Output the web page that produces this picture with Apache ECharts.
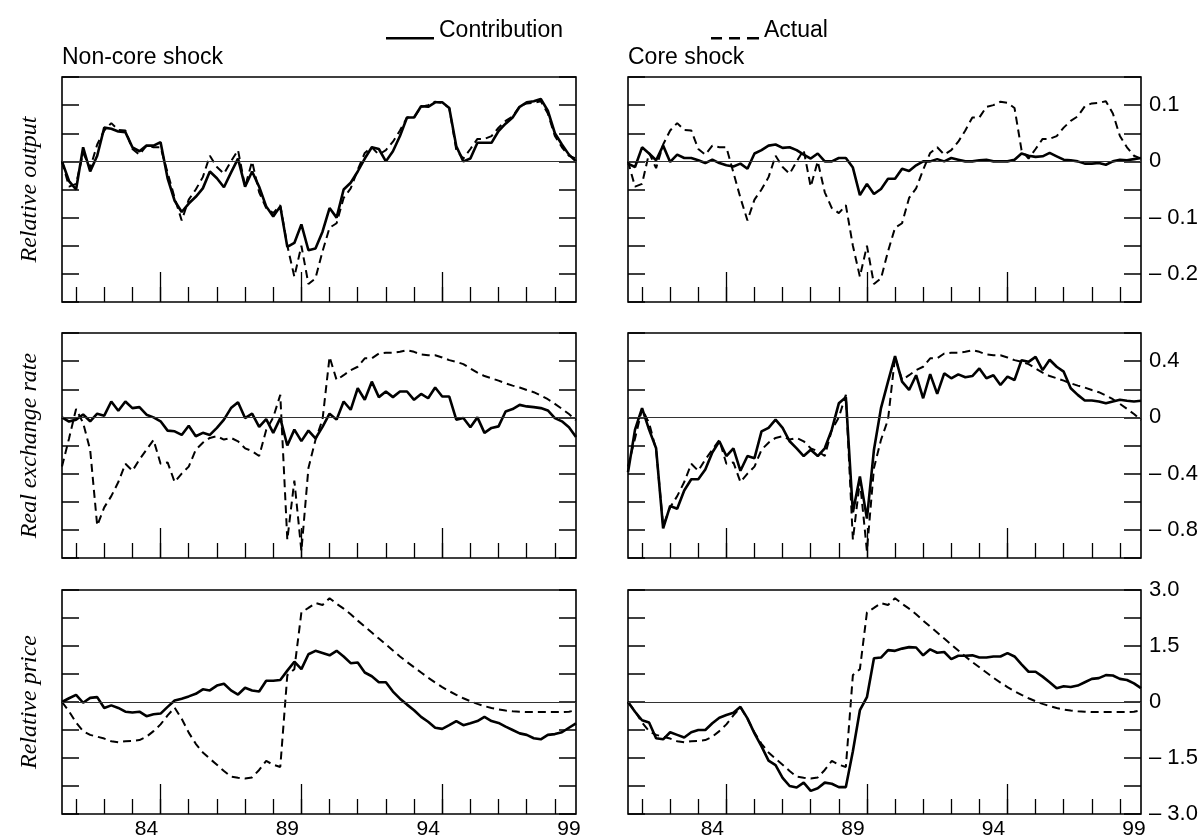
<!DOCTYPE html>
<html><head><meta charset="utf-8">
<script src="https://cdn.jsdelivr.net/npm/echarts@6/dist/echarts.min.js"></script>
<style>html,body{margin:0;padding:0;background:#fff}#chart{width:1204px;height:840px}</style>
</head><body><div id="chart"></div>
<script>
// ---------- categories (quarters, 1981Q3 .. 1999Q4) ----------
const quarters = [
  '81Q3','81Q4',
  '82Q1','82Q2','82Q3','82Q4','83Q1','83Q2','83Q3','83Q4',
  '84Q1','84Q2','84Q3','84Q4','85Q1','85Q2','85Q3','85Q4',
  '86Q1','86Q2','86Q3','86Q4','87Q1','87Q2','87Q3','87Q4',
  '88Q1','88Q2','88Q3','88Q4','89Q1','89Q2','89Q3','89Q4',
  '90Q1','90Q2','90Q3','90Q4','91Q1','91Q2','91Q3','91Q4',
  '92Q1','92Q2','92Q3','92Q4','93Q1','93Q2','93Q3','93Q4',
  '94Q1','94Q2','94Q3','94Q4','95Q1','95Q2','95Q3','95Q4',
  '96Q1','96Q2','96Q3','96Q4','97Q1','97Q2','97Q3','97Q4',
  '98Q1','98Q2','98Q3','98Q4','99Q1','99Q2','99Q3','99Q4'
];
const yearLabelQuarters = ['84Q3','89Q3','94Q3','99Q3'];
const yearLabels = ['84','89','94','99'];
const majorTickQuarters = ['85Q1','90Q1','95Q1'];

const columnTitles = ['Non-core shock', 'Core shock'];
const rowTitles = ['Relative output', 'Real exchange rate', 'Relative price'];
const seriesNames = ['Contribution', 'Actual'];

// ---------- tick labels ----------
const outputTickLabels = [0.1, 0, -0.1, -0.2];
const rerTickLabels = [0.4, 0, -0.4, -0.8];
const priceTickLabels = [3, 1.5, 0, -1.5, -3];

// ---------- relative output ----------
const outputNonCore = [
  0, -0.035, -0.05, 0.025, -0.018, 0.01, 0.06, 0.058, 0.053, 0.052,
  0.025, 0.018, 0.028, 0.028, 0.034, -0.03, -0.07, -0.09, -0.075, -0.063,
  -0.048, -0.018, -0.03, -0.046, -0.02, 0.005, -0.045, -0.018, -0.045, -0.08,
  -0.098, -0.08, -0.152, -0.145, -0.112, -0.158, -0.155, -0.125, -0.083, -0.1,
  -0.05, -0.038, -0.018, 0.005, 0.025, 0.022, 0.0, 0.018, 0.045, 0.078,
  0.078, 0.098, 0.097, 0.105, 0.105, 0.095, 0.027, 0.0, 0.005, 0.033,
  0.033, 0.033, 0.054, 0.067, 0.078, 0.097, 0.105, 0.107, 0.111, 0.09,
  0.05, 0.03, 0.012, 0.0
];
const outputCore = [
  -0.004, -0.01, 0.025, 0.014, 0.002, 0.028, -0.001, 0.012, 0.006, 0.006,
  0.002, -0.003, 0.003, -0.003, -0.007, -0.009, -0.004, -0.013, 0.014, 0.02,
  0.028, 0.03, 0.024, 0.025, 0.02, 0.012, 0.005, 0.014, 0.0, 0.0,
  0.006, 0.006, -0.011, -0.06, -0.04, -0.058, -0.049, -0.031, -0.031, -0.013,
  -0.017, -0.007, 0.0, 0.0, 0.004, 0.0, 0.006, 0.003, 0.0, 0.0,
  0.002, 0.003, 0.0, 0.0, 0.0, 0.003, 0.014, 0.01, 0.008, 0.009,
  0.015, 0.009, 0.003, 0.002, 0.0, -0.004, -0.004, -0.003, -0.006, 0.0,
  0.003, 0.002, 0.004, 0.006
];
const outputActual = [
  0.0, -0.045, -0.04, 0.015, -0.012, 0.03, 0.055, 0.068, 0.056, 0.055,
  0.022, 0.012, 0.028, 0.025, 0.025, -0.02, -0.065, -0.105, -0.068, -0.05,
  -0.028, 0.01, -0.01, -0.022, 0.0, 0.02, -0.045, 0.0, -0.055, -0.083,
  -0.092, -0.078, -0.15, -0.205, -0.15, -0.218, -0.208, -0.16, -0.118, -0.11,
  -0.065, -0.048, -0.015, 0.015, 0.025, 0.012, 0.02, 0.035, 0.055, 0.078,
  0.078, 0.097, 0.1, 0.106, 0.104, 0.095, 0.02, 0.005, 0.022, 0.04,
  0.04, 0.045, 0.06, 0.072, 0.08, 0.098, 0.103, 0.104, 0.107, 0.085,
  0.045, 0.025, 0.01, 0.005
];

// ---------- real exchange rate ----------
const rerNonCore = [
  0, -0.03, -0.016, 0.02, -0.028, 0.026, 0.012, 0.113, 0.047, 0.113,
  0.066, 0.073, 0.019, 0.0, -0.028, -0.094, -0.099, -0.125, -0.059, -0.134,
  -0.11, -0.125, -0.075, -0.016, 0.066, 0.108, -0.005, 0.026, -0.068, -0.012,
  -0.11, -0.005, -0.2, -0.087, -0.169, -0.094, -0.15, -0.068, 0.026, -0.016,
  0.113, 0.054, 0.207, 0.125, 0.254, 0.144, 0.184, 0.144, 0.184, 0.184,
  0.125, 0.167, 0.136, 0.212, 0.148, 0.148, -0.016, -0.005, -0.07, 0.0,
  -0.11, -0.075, -0.064, 0.042, 0.059, 0.089, 0.078, 0.073, 0.066, 0.049,
  -0.005, -0.028, -0.07, -0.14
];
const rerCore = [
  -0.39, -0.087, 0.066, -0.087, -0.22, -0.79, -0.63, -0.65, -0.52, -0.44,
  -0.44, -0.37, -0.25, -0.17, -0.275, -0.22, -0.38, -0.275, -0.29, -0.1,
  -0.075, -0.016, -0.075, -0.17, -0.22, -0.275, -0.23, -0.275, -0.22, -0.087,
  0.1, 0.143, -0.675, -0.42, -0.72, -0.23, 0.066, 0.254, 0.435, 0.254,
  0.195, 0.3, 0.136, 0.308, 0.167, 0.313, 0.278, 0.306, 0.285, 0.294,
  0.348, 0.278, 0.3, 0.23, 0.29, 0.266, 0.407, 0.395, 0.43, 0.336,
  0.41, 0.36, 0.325, 0.207, 0.16, 0.12, 0.12, 0.113, 0.1, 0.113,
  0.125, 0.118, 0.113, 0.118
];
const rerActual = [
  -0.35, -0.15, 0.06, -0.04, -0.23, -0.77, -0.64, -0.56, -0.46, -0.33,
  -0.38, -0.3, -0.23, -0.16, -0.33, -0.32, -0.46, -0.4, -0.35, -0.23,
  -0.18, -0.146, -0.134, -0.158, -0.146, -0.17, -0.22, -0.24, -0.275, -0.09,
  0.0, 0.16, -0.87, -0.45, -0.95, -0.36, -0.16, -0.016, 0.43, 0.266,
  0.3, 0.336, 0.36, 0.42, 0.42, 0.454, 0.46, 0.46, 0.466, 0.478,
  0.466, 0.447, 0.442, 0.442, 0.426, 0.407, 0.395, 0.379, 0.348, 0.318,
  0.294, 0.278, 0.261, 0.242, 0.226, 0.212, 0.195, 0.179, 0.155, 0.129,
  0.096, 0.061, 0.024, -0.02
];

// ---------- relative price ----------
const priceNonCore = [
  0, 0.1, 0.19, -0.02, 0.11, 0.13, -0.16, -0.09, -0.16, -0.26,
  -0.28, -0.26, -0.38, -0.33, -0.31, -0.13, 0.04, 0.09, 0.15, 0.22,
  0.34, 0.31, 0.44, 0.49, 0.31, 0.2, 0.38, 0.31, 0.28, 0.57,
  0.57, 0.59, 0.84, 1.08, 0.88, 1.28, 1.37, 1.31, 1.25, 1.37,
  1.22, 1.04, 1.06, 0.79, 0.69, 0.53, 0.53, 0.28, 0.09, -0.07,
  -0.22, -0.4, -0.53, -0.69, -0.72, -0.62, -0.51, -0.62, -0.57, -0.51,
  -0.4, -0.51, -0.56, -0.66, -0.75, -0.84, -0.88, -0.97, -1.0, -0.88,
  -0.86, -0.81, -0.69, -0.57
];
const priceCore = [
  0, -0.26, -0.49, -0.55, -0.97, -1.0, -0.81, -0.88, -0.95, -0.81,
  -0.75, -0.75, -0.57, -0.42, -0.35, -0.29, -0.13, -0.44, -0.84, -1.19,
  -1.57, -1.69, -2.03, -2.25, -2.29, -2.16, -2.38, -2.31, -2.16, -2.19,
  -2.28, -2.28, -1.32, -0.22, 0.13, 1.17, 1.19, 1.39, 1.37, 1.43,
  1.47, 1.46, 1.25, 1.41, 1.32, 1.34, 1.15, 1.24, 1.24, 1.25,
  1.19, 1.19, 1.22, 1.22, 1.31, 1.22, 1.01, 0.81, 0.81, 0.68,
  0.53, 0.37, 0.42, 0.4, 0.44, 0.53, 0.62, 0.64, 0.72, 0.71,
  0.62, 0.59, 0.5, 0.37
];
const priceActual = [
  0, -0.25, -0.55, -0.78, -0.88, -0.93, -0.98, -1.05, -1.08, -1.05,
  -1.04, -1.02, -0.93, -0.78, -0.6, -0.36, -0.15, -0.45, -0.82, -1.12,
  -1.35, -1.52, -1.68, -1.85, -2.0, -2.03, -2.05, -2.02, -1.82, -1.58,
  -1.68, -1.74, 0.72, 0.88, 2.4, 2.52, 2.65, 2.6, 2.78, 2.63,
  2.5, 2.35, 2.18, 2.02, 1.86, 1.7, 1.54, 1.38, 1.22, 1.07,
  0.93, 0.79, 0.65, 0.52, 0.4, 0.29, 0.19, 0.1, 0.02, -0.05,
  -0.11, -0.16, -0.2, -0.23, -0.25, -0.26, -0.27, -0.27, -0.27, -0.27,
  -0.27, -0.27, -0.26, -0.22
];

// ---------- layout / style ----------
const SANS = 'Liberation Sans, Arial, sans-serif';
const SERIF = 'Liberation Serif, Times New Roman, serif';
const colLeft = [62, 628];
const colWidth = [514, 513];
const rowTop = [77, 333, 590];
const rowHeight = 225;
const rows = [
  { min: -0.25, max: 0.15, interval: 0.05, labels: outputTickLabels, contrib: [outputNonCore, outputCore], actual: outputActual },
  { min: -1.0, max: 0.6, interval: 0.2, labels: rerTickLabels, contrib: [rerNonCore, rerCore], actual: rerActual },
  { min: -3.0, max: 3.0, interval: 0.75, labels: priceTickLabels, contrib: [priceNonCore, priceCore], actual: priceActual }
];

function fmtFor(labels) {
  return function (v) {
    if (!labels.some(t => Math.abs(t - v) < 1e-7)) return '';
    if (Math.abs(v) < 1e-9) return '0';
    const s = Math.abs(v).toFixed(1);
    return v < 0 ? '\u2013 ' + s : s;
  };
}

const grid = [], xAxis = [], yAxis = [], series = [];
rows.forEach((r, ri) => {
  [0, 1].forEach(ci => {
    const g = grid.length;
    grid.push({ left: colLeft[ci], top: rowTop[ri], width: colWidth[ci], height: rowHeight,
      show: true, borderColor: '#000', borderWidth: 1.6, backgroundColor: 'transparent', containLabel: false });
    const isBottom = ri === 2;
    // minor year ticks + labels
    xAxis.push({ gridIndex: g, type: 'category', data: quarters, boundaryGap: false, position: 'bottom',
      axisLine: { show: false, onZero: false },
      axisTick: { show: true, inside: true, length: 15, interval: (i, v) => v.endsWith('Q1'), lineStyle: { color: '#000', width: 1.3 } },
      axisLabel: { show: isBottom, interval: (i, v) => yearLabelQuarters.includes(v),
        formatter: v => { const k = yearLabelQuarters.indexOf(v); return k >= 0 ? yearLabels[k] : ''; },
        color: '#000', fontFamily: SANS, fontSize: 21, margin: 5 },
      splitLine: { show: false } });
    // long ticks every 5 years
    xAxis.push({ gridIndex: g, type: 'category', data: quarters, boundaryGap: false, position: 'bottom',
      axisLine: { show: false, onZero: false },
      axisTick: { show: true, inside: true, length: 30, interval: (i, v) => majorTickQuarters.includes(v), lineStyle: { color: '#000', width: 1.3 } },
      axisLabel: { show: false }, splitLine: { show: false } });
    const yCommon = { gridIndex: g, type: 'value', min: r.min, max: r.max, interval: r.interval,
      axisLine: { show: false }, splitLine: { show: false },
      axisTick: { show: true, inside: true, length: 17, lineStyle: { color: '#000', width: 1.5 } } };
    yAxis.push(Object.assign({}, yCommon, { position: 'left',
      axisLabel: { show: false },
      name: ci === 0 ? rowTitles[ri] : '', nameLocation: 'middle', nameRotate: 90, nameGap: 20,
      nameTextStyle: { fontFamily: SERIF, fontStyle: 'italic', fontSize: 24, color: '#000' } }));
    yAxis.push(Object.assign({}, yCommon, { position: 'right',
      axisLabel: { show: ci === 1, formatter: fmtFor(r.labels), color: '#000', fontFamily: SANS, fontSize: 22, margin: 8,
        showMinLabel: true, showMaxLabel: true } }));
    series.push({ name: seriesNames[1], type: 'line', xAxisIndex: 2 * g, yAxisIndex: 2 * g, data: r.actual,
      symbol: 'none', showSymbol: false, silent: true, z: 3,
      lineStyle: { color: '#000', width: 2, type: [8, 5] }, itemStyle: { color: '#000' },
      markLine: { silent: true, symbol: ['none', 'none'], label: { show: false },
        lineStyle: { color: '#333', width: 1.2, type: 'solid' }, data: [{ yAxis: 0 }], animation: false } });
    series.push({ name: seriesNames[0], type: 'line', xAxisIndex: 2 * g, yAxisIndex: 2 * g, data: r.contrib[ci],
      symbol: 'none', showSymbol: false, silent: true, z: 4,
      lineStyle: { color: '#000', width: 2.6, type: 'solid' }, itemStyle: { color: '#000' } });
  });
});

const option = {
  animation: false,
  backgroundColor: '#fff',
  title: [
    { text: columnTitles[0], left: colLeft[0], top: 46, padding: 0, textStyle: { fontFamily: SANS, fontSize: 23, fontWeight: 'normal', color: '#000' } },
    { text: columnTitles[1], left: colLeft[1], top: 46, padding: 0, textStyle: { fontFamily: SANS, fontSize: 23, fontWeight: 'normal', color: '#000' } }
  ],
  legend: {
    left: 386, top: 19, padding: 0, itemWidth: 48, itemHeight: 18, itemGap: 148,
    selectedMode: false,
    textStyle: { fontFamily: SANS, fontSize: 23, color: '#000' },
    itemStyle: { borderWidth: 0 },
    data: [
      { name: seriesNames[0], icon: 'path://M0,0 M0,15.5 L48,15.5 L48,18 L0,18 Z' },
      { name: seriesNames[1], icon: 'path://M0,0 M0,15.5 h11 v2.5 h-11 z M18,15.5 h11 v2.5 h-11 z M36,15.5 h12 v2.5 h-12 z M48,18' }
    ]
  },
  grid, xAxis, yAxis, series
};

const chart = echarts.init(document.getElementById('chart'), null, { renderer: 'canvas' });
chart.setOption(option);
</script>
</body></html>
